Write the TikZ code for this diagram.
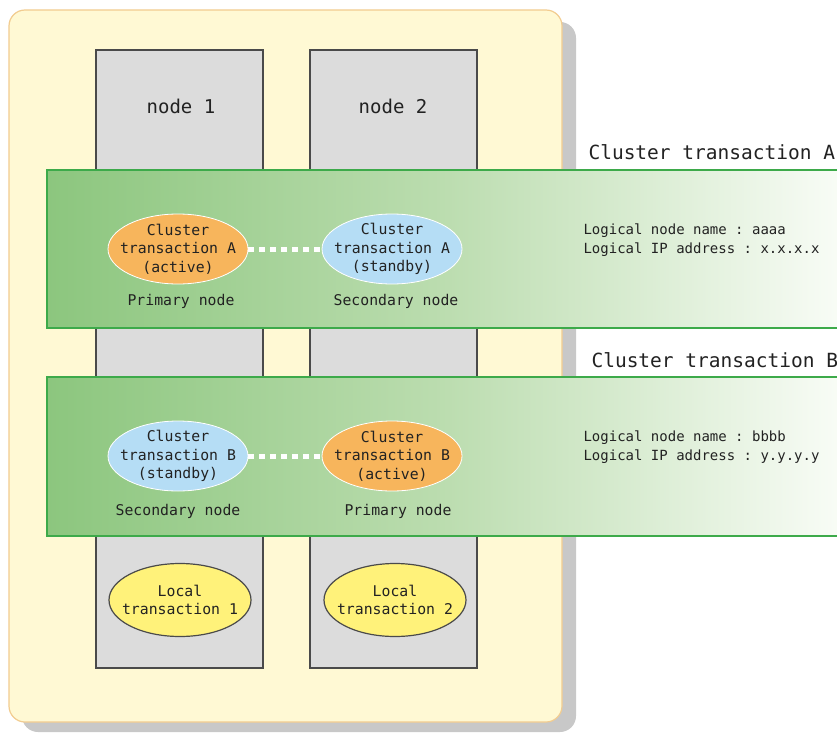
\documentclass[tikz,border=0pt]{standalone}
\usepackage{fontspec}
\setmonofont{DejaVu Sans Mono}
\usetikzlibrary{shapes.geometric,positioning}

\definecolor{bgyellow}{HTML}{FFF9D4}
\definecolor{bgline}{HTML}{F2CC90}
\definecolor{shadowgray}{HTML}{C8C8C8}
\definecolor{boxgray}{HTML}{DCDCDC}
\definecolor{boxline}{HTML}{4A4A4A}
\definecolor{bandgreen}{HTML}{8CC67E}
\definecolor{bandmid}{HTML}{BCDDB0}
\definecolor{bandpale}{HTML}{FAFDF8}
\definecolor{bandline}{HTML}{3DAA4A}
\definecolor{actorange}{HTML}{F7B55C}
\definecolor{stbblue}{HTML}{B5DDF5}
\definecolor{localyellow}{HTML}{FFF27A}
\definecolor{txtdark}{HTML}{222222}

\pgfdeclarehorizontalshading{bandfade}{100bp}{color(0bp)=(bandgreen); color(25bp)=(bandgreen); color(50bp)=(bandmid); color(75bp)=(bandpale); color(100bp)=(bandpale)}

\begin{document}
\begin{tikzpicture}[x=1pt,y=-1pt,
  font=\ttfamily,text=txtdark,
  srvbox/.style={fill=boxgray,draw=boxline,line width=1.6pt},
  band/.style={shading=bandfade,draw=bandline,line width=1.5pt},
  trans/.style={ellipse,minimum width=140pt,minimum height=70pt,inner sep=0pt,draw=white,line width=0.8pt},
  localtr/.style={ellipse,minimum width=142pt,minimum height=73pt,inner sep=0pt,fill=localyellow,draw=boxline,line width=1.2pt},
  etext/.style={align=center,font=\ttfamily\fontsize{14.8}{18.5}\selectfont},
  rolelbl/.style={font=\ttfamily\fontsize{14.8}{17}\selectfont},
  srvlbl/.style={font=\ttfamily\fontsize{19}{22}\selectfont},
  headlbl/.style={anchor=west,font=\ttfamily\fontsize{19.5}{22}\selectfont},
  infolbl/.style={anchor=west,align=left,font=\ttfamily\fontsize{14}{19}\selectfont},
  standbylink/.style={white,line width=5pt,dash pattern=on 6pt off 5pt}]
\path[use as bounding box,clip] (0,0) rectangle (837,733);
\fill[white] (0,0) rectangle (837,733);

% cluster system
\fill[shadowgray,rounded corners=16pt] (22,22) rectangle (576,732);
\draw[bgline,fill=bgyellow,line width=1.2pt,rounded corners=16pt] (9,10) rectangle (562,722);

% nodes
\draw[srvbox] (96,50) rectangle (263,668);
\draw[srvbox] (310,50) rectangle (477,668);
\node[srvlbl] (n1) at (181,106) {node 1};
\node[srvlbl] (n2) at (393,106) {node 2};

% cluster transaction A
\path[band] (850,170) -- (47,170) -- (47,328) -- (850,328);
\node[headlbl] (hdA) at (585,152) {Cluster transaction A};
\node[trans,fill=actorange] (actA) at (178,249) {};
\node[etext] (actAtxt) at (actA) {Cluster\\transaction A\\(active)};
\node[trans,fill=stbblue] (stbA) at (392,249) {};
\node[etext] (stbAtxt) at (stbA) {Cluster\\transaction A\\(standby)};
\draw[standbylink] (actA) -- (stbA);
\node[rolelbl] (priA) at (181,301) {Primary node};
\node[rolelbl] (secA) at (396,301) {Secondary node};
\node[infolbl] (infoA) at (580,240) {Logical node name : aaaa\\Logical IP address : x.x.x.x};

% cluster transaction B
\path[band] (850,377) -- (47,377) -- (47,536) -- (850,536);
\node[headlbl] (hdB) at (588,360) {Cluster transaction B};
\node[trans,fill=stbblue] (stbB) at (178,456) {};
\node[etext] (stbBtxt) at (stbB) {Cluster\\transaction B\\(standby)};
\node[trans,fill=actorange] (actB) at (392,456) {};
\node[etext] (actBtxt) at (actB) {Cluster\\transaction B\\(active)};
\draw[standbylink] (stbB) -- (actB);
\node[rolelbl] (secB) at (178,511) {Secondary node};
\node[rolelbl] (priB) at (398,511) {Primary node};
\node[infolbl] (infoB) at (580,447) {Logical node name : bbbb\\Logical IP address : y.y.y.y};

% local transactions
\node[localtr] (loc1) at (180,600) {};
\node[etext] (loc1txt) at (loc1) {Local\\transaction 1};
\node[localtr] (loc2) at (395,600) {};
\node[etext] (loc2txt) at (loc2) {Local\\transaction 2};
\end{tikzpicture}
\end{document}
